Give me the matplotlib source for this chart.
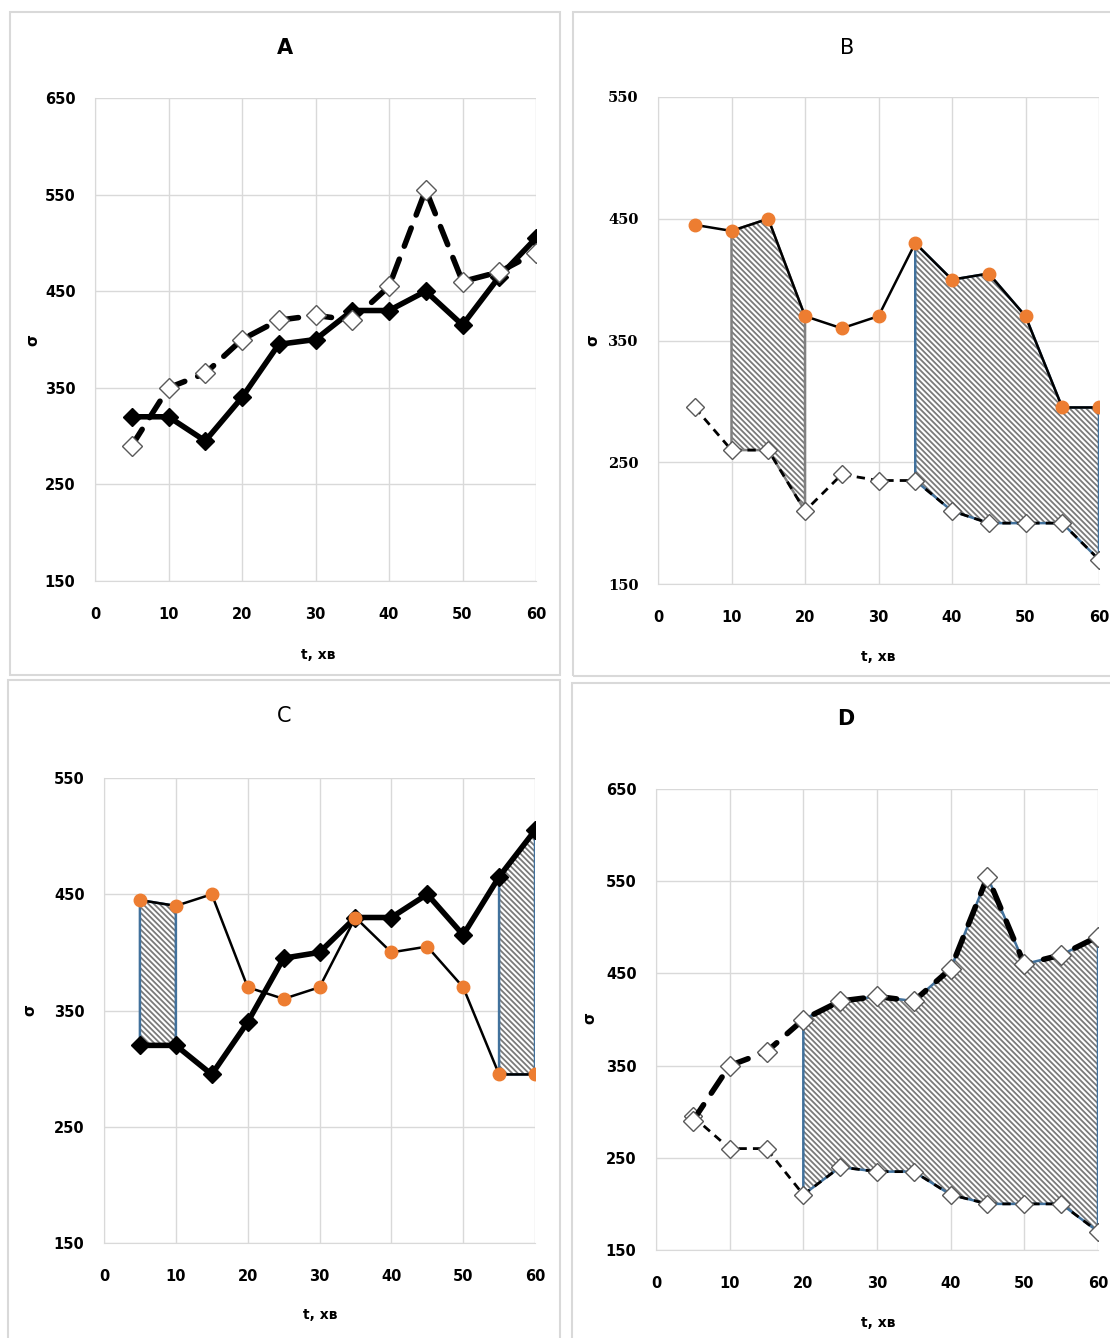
import matplotlib
matplotlib.use('Agg')
import matplotlib.pyplot as plt
import numpy as np
from matplotlib.patches import Rectangle

plt.rcParams['hatch.linewidth'] = 1.3

t = [5, 10, 15, 20, 25, 30, 35, 40, 45, 50, 55, 60]
sigma_solid = [320, 320, 295, 340, 395, 400, 430, 430, 450, 415, 465, 505]
sigma_dashed = [290, 350, 365, 400, 420, 425, 420, 455, 555, 460, 470, 490]
sigma_orange = [445, 440, 450, 370, 360, 370, 430, 400, 405, 370, 295, 295]
sigma_low = [295, 260, 260, 210, 240, 235, 235, 210, 200, 200, 200, 170]

titles = ['A', 'B', 'C', 'D']
x_ticks = [0, 10, 20, 30, 40, 50, 60]
x_label = 't, хв'
y_label = 'σ'

W, H = 1110, 1338
ORANGE = '#ED7D31'
EDGE_BLUE = '#41719C'
GRID = '#d9d9d9'

fig = plt.figure(figsize=(W / 100, H / 100), dpi=100)


def px_axes(x0, x1, ytop, ybot):
    return fig.add_axes([x0 / W, 1 - ybot / H, (x1 - x0) / W, (ybot - ytop) / H])


def style_axes(ax, ylim, yfont=None):
    ax.set_xlim(0, 60)
    ax.set_ylim(*ylim)
    ax.set_xticks(x_ticks)
    ax.set_yticks(np.arange(ylim[0], ylim[1] + 1, 100))
    ax.grid(True, color=GRID, linewidth=1.0)
    ax.set_axisbelow(True)
    for s in ax.spines.values():
        s.set_visible(False)
    ax.spines['bottom'].set_visible(True)
    ax.spines['bottom'].set_color(GRID)
    ax.spines['left'].set_visible(True)
    ax.spines['left'].set_color(GRID)
    ax.tick_params(length=0, labelsize=10.5)
    ax.tick_params(axis='x', pad=19)
    ax.tick_params(axis='y', pad=14)
    for lab in ax.get_xticklabels():
        lab.set_fontweight('bold')
    for lab in ax.get_yticklabels():
        lab.set_fontweight('bold')
        if yfont:
            lab.set_family(yfont)


def thick_solid(ax):
    ax.plot(t, sigma_solid, color='black', lw=4.0, marker='D', ms=9,
            mfc='black', mec='black', solid_joinstyle='miter', zorder=4)


def thick_dashed(ax):
    ax.plot(t, sigma_dashed, color='black', lw=4.0, dashes=(3.5, 2.5),
            dash_capstyle='round', marker='D', ms=10, mfc='white',
            mec='#595959', mew=1.0, zorder=5)


def thin_orange(ax):
    ax.plot(t, sigma_orange, color='black', lw=1.8, marker='o', ms=9,
            mfc=ORANGE, mec=ORANGE, zorder=4)


def thin_dashed(ax):
    ax.plot(t, sigma_low, color='black', lw=2.0, dashes=(3, 2.2),
            marker='D', ms=9, mfc='white', mec='#595959', mew=1.0, zorder=4)


def hatched(ax, lo, hi, start, end, edge):
    tt = np.array(t)
    sel = (tt >= start) & (tt <= end)
    lo = np.array(lo)[sel]
    hi = np.array(hi)[sel]
    ax.fill_between(tt[sel], lo, hi, facecolor='white', edgecolor='#7a7a7a',
                    hatch='\\' * 6, linewidth=0, zorder=2)
    ax.fill_between(tt[sel], lo, hi, facecolor='none', edgecolor=edge,
                    linewidth=1.8, zorder=2.5)


# panel frames
for (x0, y0, x1, y1) in [(10, 12, 560, 675), (573, 12, 1112, 676),
                         (8, 680, 560, 1340), (572, 683, 1112, 1340)]:
    fig.add_artist(Rectangle((x0 / W, 1 - y1 / H), (x1 - x0) / W, (y1 - y0) / H,
                             transform=fig.transFigure, fill=False,
                             edgecolor=GRID, linewidth=1.5))

# A
axA = px_axes(95, 536, 98, 581)
thick_solid(axA)
thick_dashed(axA)
style_axes(axA, (150, 650))

# B
axB = px_axes(658, 1099, 97, 584)
hatched(axB, sigma_low, sigma_orange, 10, 20, '#808080')
hatched(axB, sigma_low, sigma_orange, 35, 60, EDGE_BLUE)
thin_orange(axB)
thin_dashed(axB)
style_axes(axB, (150, 550), yfont='DejaVu Serif')

# C
axC = px_axes(104, 535, 778, 1243)
hatched(axC, sigma_solid, sigma_orange, 5, 10, EDGE_BLUE)
hatched(axC, sigma_orange, sigma_solid, 55, 60, EDGE_BLUE)
thick_solid(axC)
thin_orange(axC)
style_axes(axC, (150, 550))

# D
axD = px_axes(656, 1098, 789, 1250)
hatched(axD, sigma_low, sigma_dashed, 20, 60, EDGE_BLUE)
thick_dashed(axD)
thin_dashed(axD)
style_axes(axD, (150, 650))

# titles and axis labels
label_pos = [
    ((285, 48), (318, 655), (33, 340), 'bold'),
    ((847, 48), (878, 657), (593, 340), 'normal'),
    ((284, 716), (320, 1315), (30, 1010), 'normal'),
    ((846, 719), (878, 1323), (590, 1018), 'bold'),
]
for title, (tp, xp, yp, w) in zip(titles, label_pos):
    fig.text(tp[0] / W, 1 - tp[1] / H, title, ha='center', va='center',
             fontsize=15, fontweight=w)
    fig.text(xp[0] / W, 1 - xp[1] / H, x_label, ha='center', va='center',
             fontsize=10, fontweight='bold')
    fig.text(yp[0] / W, 1 - yp[1] / H, y_label, ha='center', va='center',
             fontsize=11, fontweight='bold', rotation=90)

fig.savefig('out.png', dpi=100)
